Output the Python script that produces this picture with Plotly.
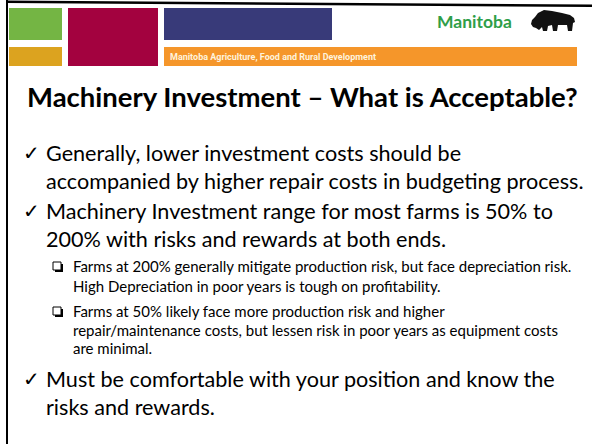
import plotly.graph_objects as go

W, H = 592, 444

title_text = "Machinery Investment \u2013 What is Acceptable?"
bullet_lines = [
    "Generally, lower investment costs should be",
    "accompanied by higher repair costs in budgeting process.",
    "Machinery Investment range for most farms is 50% to",
    "200% with risks and rewards at both ends.",
    "Must be comfortable with your position and know the",
    "risks and rewards.",
]
bullet_baselines = [161, 189, 219, 247, 387, 415]
bullet_checks = [True, False, True, False, True, False]

sub_lines = [
    "Farms at 200% generally mitigate production risk, but face depreciation risk.",
    "High Depreciation in poor years is tough on profitability.",
    "Farms at 50% likely face more production risk and higher",
    "repair/maintenance costs, but lessen risk in poor years as equipment costs",
    "are minimal.",
]
sub_baselines = [272, 292, 317, 336, 354]
sub_boxes = [True, False, True, False, False]

banner_text = "Manitoba Agriculture, Food and Rural Development"
logo_text = "Manitoba"

FONT = "Lato, Calibri, Carlito, sans-serif"
TITLE_SIZE = 27.5
MAIN_SIZE = 21.6
SUB_SIZE = 15.0

fig = go.Figure()
fig.add_trace(go.Scatter(x=[0, W], y=[0, H], mode="markers", marker=dict(opacity=0), hoverinfo="skip", showlegend=False))

shapes = []
def rect(x0, y0, x1, y1, color, line=None):
    shapes.append(dict(type="rect", xref="x", yref="y", x0=x0, y0=y0, x1=x1, y1=y1,
                       fillcolor=color, line=dict(width=0) if line is None else line, layer="above"))

# header blocks
rect(9, 8, 62, 40, "#74b544")
rect(9, 47, 62, 66, "#dca31f")
rect(68, 8, 158, 66, "#a3023f")
rect(164, 8, 332, 40, "#383a79")
rect(164, 47, 577, 66, "#f5962a")
# borders
shapes.append(dict(type="path", xref="x", yref="y", path="M 6 0.5 L 592 4.5 L 592 7 L 6 3 Z",
                   fillcolor="black", line=dict(width=0), layer="above"))
rect(6, 0, 8, H, "black")

# bison
bison = ("M 531 24 L 532 20 L 535 17 L 538 13 L 544 10 L 552 11 L 562 13 L 570 15 L 574 18 L 575 22 "
         "L 573 23 L 572 31 L 568 31 L 567 25 L 558 25 L 557 31 L 553 31 L 552 25 L 548 26 "
         "L 547 31 L 543 31 L 542 27 L 539 30 L 536 28 L 533 27 Z")
shapes.append(dict(type="path", xref="x", yref="y", path=bison, fillcolor="#111111",
                   line=dict(width=0), layer="above"))

annotations = []
def text(x, baseline, s, size, color="black", family=FONT, bold=False, anchor="left", asc=0.387):
    annotations.append(dict(x=x, y=baseline - asc * size, xref="x", yref="y", text=("<b>%s</b>" % s) if bold else s,
                            showarrow=False, xanchor=anchor, yanchor="middle",
                            font=dict(size=size, color=color, family=family), borderpad=0))

text(26, 107, title_text, TITLE_SIZE, bold=True)

for s, b, chk in zip(bullet_lines, bullet_baselines, bullet_checks):
    text(45, b, s, MAIN_SIZE)
    if chk:
        text(22, b, "\u2713", 20, family="DejaVu Sans")

for s, b, bx in zip(sub_lines, sub_baselines, sub_boxes):
    text(72, b, s, SUB_SIZE)
    if bx:
        rect(55, b - 8, 63, b, "black")
        rect(53, b - 10, 61, b - 2, "white", line=dict(color="black", width=1))

text(169, 60.5, banner_text, 9, color="#fff3dc", family="Liberation Sans Narrow, Roboto", bold=True)
text(436, 28, logo_text, 17.5, color="#2f9e48", family="Lato", bold=True)

fig.update_layout(
    width=W, height=H, margin=dict(l=0, r=0, t=0, b=0),
    paper_bgcolor="white", plot_bgcolor="white",
    xaxis=dict(range=[0, W], visible=False, fixedrange=True),
    yaxis=dict(range=[H, 0], visible=False, fixedrange=True),
    shapes=shapes, annotations=annotations, showlegend=False,
)
fig.write_html("out.html", config={"displayModeBar": False},
               post_script="document.body.style.margin='0';document.body.style.overflow='hidden';")
